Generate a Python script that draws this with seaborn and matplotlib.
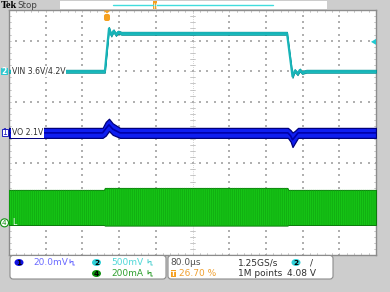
import numpy as np
import pandas as pd
import matplotlib
matplotlib.use("Agg")
import matplotlib.pyplot as plt
import seaborn as sns
from matplotlib.patches import FancyBboxPatch, Rectangle, Polygon, Ellipse

# ---------------- data ----------------
# Channel 2: VIN (V), 500 mV/div
vin_t = [0, 209, 218, 223, 228, 233, 238, 245, 606, 618, 623, 629, 634, 639, 648, 800]
vin_v = [3.60, 3.60, 4.30, 4.19, 4.26, 4.20, 4.24, 4.22, 4.22, 3.515, 3.61, 3.56, 3.62, 3.58, 3.60, 3.60]
# Channel 1: VO deviation from 2.1 V (mV), 20 mV/div - upper / lower noise envelope
vo_t = [0, 204, 211, 218, 226, 242, 608, 614, 618, 623, 630, 800]
vo_hi = [3.0, 3.0, 7.0, 9.0, 6.0, 3.0, 3.0, 1.5, 0.0, 1.0, 3.0, 3.0]
vo_lo = [-3.5, -3.5, -2.0, 1.0, -1.5, -3.5, -3.5, -6.0, -9.5, -7.0, -3.5, -3.5]
# Channel 4: IL (mA), 200 mA/div - switching ripple envelope
il_t = [0, 207, 209, 607, 609, 800]
il_hi = [215, 215, 228, 228, 215, 215]
il_lo = [-14, -14, -18, -18, -14, -14]

ch_labels = ["VIN 3.6V/4.2V", "VO 2.1V", "L"]
scale_labels = ["20.0mV", "500mV", "200mA"]
time_labels = ["80.0\u00b5s", "1.25GS/s", "26.70 %", "1M points", "4.08 V"]

# scope settings
T_DIV, N_HDIV, N_VDIV = 80.0, 10, 8
CH2_SCALE, CH2_REF, CH2_POS = 0.5, 3.6, 6.0
CH1_SCALE, CH1_POS = 20.0, 4.0
CH4_SCALE, CH4_POS = 200.0, 1.05

vin_div = (np.array(vin_v) - CH2_REF) / CH2_SCALE + CH2_POS
vo_hi_div = np.array(vo_hi) / CH1_SCALE + CH1_POS
vo_lo_div = np.array(vo_lo) / CH1_SCALE + CH1_POS
il_hi_div = np.array(il_hi) / CH4_SCALE + CH4_POS
il_lo_div = np.array(il_lo) / CH4_SCALE + CH4_POS

df_vin = pd.DataFrame({"t": vin_t, "div": vin_div})
df_vo = pd.DataFrame({"t": vo_t, "div": (vo_hi_div + vo_lo_div) / 2})

# ---------------- figure ----------------
sns.set_style("white")
NARROW = ["Liberation Sans Narrow", "DejaVu Sans"]
plt.rcParams["font.family"] = NARROW
plt.rcParams["hatch.linewidth"] = 0.5

W, H = 390, 292
fig = plt.figure(figsize=(W / 100, H / 100), dpi=100, facecolor="#cdcdcd")

PL, PR, PT, PB = 9, 376, 10, 255
ax = fig.add_axes([PL / W, (H - PB) / H, (PR - PL) / W, (PB - PT) / H])
ax.set_zorder(5)
ax.set_facecolor("white")
xmax = T_DIV * N_HDIV
ax.set_xlim(0, xmax)
ax.set_ylim(0, N_VDIV)
ax.set_xticks([])
ax.set_yticks([])
for s in ax.spines.values():
    s.set_color("#8c8c8c")
    s.set_linewidth(1.0)

# graticule
gcol = "#b0b0b0"
dots_x, dots_y = [], []
for i in range(1, N_HDIV):
    if i == N_HDIV // 2:
        continue
    for yy in np.arange(0, N_VDIV + 0.01, 0.2):
        dots_x.append(i * T_DIV); dots_y.append(yy)
for j in range(1, N_VDIV):
    if j == N_VDIV // 2:
        continue
    for xx in np.arange(0, N_HDIV + 0.01, 0.2):
        dots_x.append(xx * T_DIV); dots_y.append(j)
ax.scatter(dots_x, dots_y, s=0.8, color=gcol, marker="s", linewidths=0, zorder=1)
# center cross
ax.axvline(xmax / 2, color=gcol, lw=0.5, ls=(0, (1, 2)), zorder=1)
ax.axhline(N_VDIV / 2, color=gcol, lw=0.5, ls=(0, (1, 2)), zorder=1)
tk = 0.06
for yy in np.arange(0, N_VDIV + 0.01, 0.2):
    ax.plot([xmax / 2 - T_DIV * tk, xmax / 2 + T_DIV * tk], [yy, yy], color=gcol, lw=0.5, zorder=1)
    ax.plot([0, T_DIV * tk], [yy, yy], color=gcol, lw=0.5, zorder=1)
    ax.plot([xmax - T_DIV * tk, xmax], [yy, yy], color=gcol, lw=0.5, zorder=1)
for xx in np.arange(0, N_HDIV + 0.01, 0.2):
    ax.plot([xx * T_DIV] * 2, [N_VDIV / 2 - tk, N_VDIV / 2 + tk], color=gcol, lw=0.5, zorder=1)
    ax.plot([xx * T_DIV] * 2, [N_VDIV - tk, N_VDIV], color=gcol, lw=0.5, zorder=1)
    ax.plot([xx * T_DIV] * 2, [0, tk], color=gcol, lw=0.5, zorder=1)

# channel 4 : inductor current band
ax.fill_between(il_t, il_lo_div, il_hi_div, facecolor="#16c416", edgecolor="#0a7a0a",
                lw=0.7, zorder=3)
ax.fill_between(il_t, il_lo_div, il_hi_div, facecolor="none", edgecolor="#0fa80f",
                hatch="||||||||", lw=0, zorder=3)

# channel 1 : output voltage band
ax.fill_between(vo_t, vo_lo_div, vo_hi_div, facecolor="#0f1ef0", edgecolor="#00007a",
                lw=0.9, zorder=4)
sns.lineplot(data=df_vo, x="t", y="div", ax=ax, color="#0000a8", lw=1.2, zorder=4,
             estimator=None, sort=False)

# channel 2 : input voltage
ax.fill_between(vin_t, vin_div - 0.05, vin_div + 0.05, facecolor="#1cc8c8",
                edgecolor="#0a8c90", lw=0.6, zorder=4)
sns.lineplot(data=df_vin, x="t", y="div", ax=ax, color="#18b4b8", lw=1.6, zorder=4,
             estimator=None, sort=False)
ax.set_xlabel("")
ax.set_ylabel("")

# ---------------- overlay in pixel coordinates ----------------
ov = fig.add_axes([0, 0, 1, 1])
ov.set_zorder(10)
ov.set_xlim(0, W)
ov.set_ylim(H, 0)
ov.axis("off")
ov.patch.set_visible(False)

def px_y(div):
    return PB - div * (PB - PT) / N_VDIV

def px_x(t):
    return PL + t / xmax * (PR - PL)

# top status bar
ov.text(0.5, 5.5, "Tek", fontsize=7.5, fontweight="bold", family=["Liberation Serif", "DejaVu Serif"],
        color="black", va="center", ha="left")
ov.text(17, 5.0, "Stop", fontsize=6.3, color="#404040", va="center", ha="left")
ov.add_patch(Rectangle((60, 1), 267, 8, facecolor="white", edgecolor="none"))
ov.plot([113, 273], [4.5, 4.5], color="#40dcdc", lw=1.0)
ov.add_patch(Rectangle((153, 1), 4, 8, facecolor="#f5a020", edgecolor="none"))
ov.plot([154.3, 154.3], [2.5, 8], color="white", lw=0.5)
ov.plot([155.7, 155.7], [2.5, 8], color="white", lw=0.5)

# trigger position marker
tx = px_x(213.6)
ov.add_patch(Polygon([[tx - 3.5, 10.5], [tx + 3.5, 10.5], [tx, 13.5]], closed=True,
                     facecolor="#f5a020", edgecolor="none"))
ov.add_patch(FancyBboxPatch((tx - 3, 14), 6, 7, boxstyle="round,pad=0,rounding_size=2",
                            facecolor="#f5a020", edgecolor="none"))
# trigger level marker (right)
ly = px_y((4.08 - CH2_REF) / CH2_SCALE + CH2_POS)
ov.add_patch(Polygon([[371, ly], [376, ly - 3], [376, ly + 3]], closed=True,
                     facecolor="#20c8d0", edgecolor="none"))

# channel markers and labels
lbl_box = dict(facecolor="white", edgecolor="none", pad=0.6)
y2 = px_y(CH2_POS)
ov.add_patch(Rectangle((1, y2 - 3.5), 7, 7, facecolor="#30c8d0", edgecolor="none"))
ov.text(4.5, y2, "2", fontsize=5.5, color="white", ha="center", va="center", fontweight="bold")
ov.text(11.5, y2, ch_labels[0], fontsize=5.6, color="#303030", ha="left", va="center", bbox=lbl_box)
y1 = px_y(CH1_POS)
ov.add_patch(Rectangle((1.5, y1 - 3.5), 6.5, 7, facecolor="white", edgecolor="#2020c0", lw=0.7))
ov.text(4.8, y1, "1", fontsize=5.5, color="#2020c0", ha="center", va="center")
ov.text(11.5, y1, ch_labels[1], fontsize=5.6, color="#303030", ha="left", va="center", bbox=lbl_box)
y4 = px_y(CH4_POS)
ov.add_patch(Ellipse((4.5, y4), 8, 8, facecolor="white", edgecolor="#109010", lw=0.8))
ov.text(4.5, y4, "4", fontsize=5.3, color="#109010", ha="center", va="center")
ov.text(12.5, y4, ch_labels[2], fontsize=5.8, color="white", ha="left", va="center")

# bottom info boxes
for (x0, x1) in [(10, 166), (168, 333)]:
    ov.add_patch(FancyBboxPatch((x0, 255.5), x1 - x0, 23.5,
                                boxstyle="round,pad=0,rounding_size=3",
                                facecolor="white", edgecolor="#8c8c8c", lw=0.8))

r1, r2 = 262.5, 273.5

def badge(x, y, n, col):
    ov.add_patch(Ellipse((x, y), 9, 7, facecolor=col, edgecolor="none"))
    ov.text(x, y + 0.2, n, fontsize=5.3, color="black", ha="center", va="center", fontweight="bold")

def bw_icon(x, y, col):
    ov.plot([x, x, x + 1.5, x + 3, x + 3, x + 4.5], [y - 3, y + 0.5, y - 1, y - 1, y + 2.5, y + 2.5],
            color=col, lw=0.7)

badge(19, r1, "1", "#1010e0")
ov.text(33, r1, scale_labels[0], fontsize=6.5, color="#6a6aff", ha="left", va="center")
bw_icon(70, r1, "#6a6aff")
badge(96.5, r1, "2", "#30d0d8")
ov.text(111, r1, scale_labels[1], fontsize=6.5, color="#50d8d8", ha="left", va="center")
bw_icon(148, r1, "#50d0d0")
badge(96.5, r2, "4", "#109010")
ov.text(111, r2, scale_labels[2], fontsize=6.5, color="#30a030", ha="left", va="center")
bw_icon(148, r2, "#30a030")

ov.text(170, r1, time_labels[0], fontsize=6.5, color="#505050", ha="left", va="center")
ov.add_patch(Rectangle((170.5, r2 - 3.5), 5.5, 7, facecolor="#f5a020", edgecolor="none"))
ov.text(173.2, r2, "T", fontsize=5, color="white", ha="center", va="center", fontweight="bold")
ov.text(179, r2, time_labels[2], fontsize=6.5, color="#f0a030", ha="left", va="center")
ov.text(238, r1, time_labels[1], fontsize=6.5, color="#303030", ha="left", va="center")
ov.text(238, r2, time_labels[3], fontsize=6.5, color="#303030", ha="left", va="center")
badge(296, r1, "2", "#30d0d8")
ov.text(311, r1, "/", fontsize=6.5, color="#303030", ha="center", va="center")
ov.text(316, r2, time_labels[4], fontsize=6.5, color="#303030", ha="right", va="center")

fig.savefig("out.png", dpi=100, facecolor=fig.get_facecolor())
